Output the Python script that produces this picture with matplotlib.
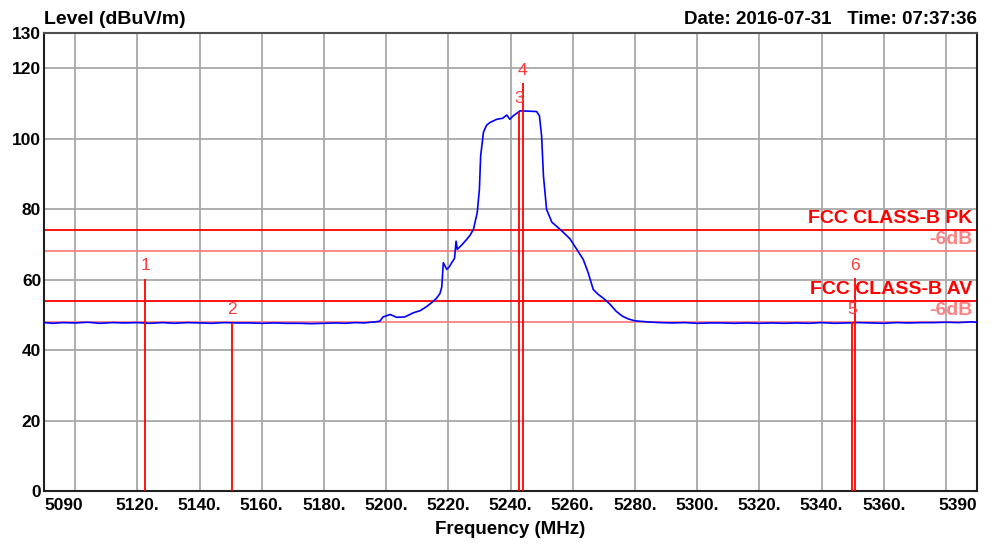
import matplotlib
matplotlib.use("Agg")
import matplotlib.pyplot as plt

plt.rcParams['font.family'] = ['Liberation Sans', 'DejaVu Sans']

# ---- data ----
freq_mhz = [5090, 5093, 5096, 5100, 5104, 5108, 5112, 5116, 5120, 5124, 5128, 5132,
            5136, 5140, 5144, 5148, 5152, 5156, 5160, 5164, 5168, 5172, 5176, 5180,
            5184, 5187, 5190, 5193, 5195, 5196.5, 5198, 5199, 5201.3, 5203.4, 5206,
            5208.8, 5211, 5213.1, 5214.7, 5216, 5217.3, 5217.9, 5218.4, 5219.5, 5220.3,
            5221.1, 5222.0, 5222.5, 5222.9, 5224.5, 5225.9, 5227, 5228.1, 5229.3, 5230,
            5230.4, 5231.3, 5232.3, 5233.4, 5235.6, 5237.5, 5238.8, 5239.8, 5240.9, 5242,
            5243.1, 5246, 5248.4, 5249.3, 5250, 5250.6, 5251.6, 5253.3, 5255, 5256.5,
            5259.1, 5261.3, 5263.4, 5265, 5266.6, 5268.2, 5270, 5272, 5274, 5276, 5278,
            5280, 5284, 5288, 5292, 5296, 5300, 5304, 5308, 5312, 5316, 5320, 5324, 5328,
            5332, 5336, 5340, 5344, 5348, 5352, 5356, 5360, 5364, 5368, 5372, 5376, 5380,
            5384, 5388, 5390]
level_dbuv = [47.8, 47.6, 47.8, 47.7, 47.9, 47.6, 47.8, 47.7, 47.8, 47.6, 47.8, 47.6,
              47.8, 47.7, 47.6, 47.8, 47.7, 47.7, 47.6, 47.7, 47.6, 47.6, 47.5, 47.6,
              47.7, 47.6, 47.8, 47.7, 47.9, 48.0, 48.2, 49.4, 50.1, 49.3, 49.4,
              50.6, 51.2, 52.4, 53.5, 54.5, 56.0, 57.9, 64.8, 62.9, 63.6,
              64.8, 66.0, 70.9, 68.6, 70.0, 71.4, 72.6, 74.3, 79.0, 85.6,
              95.1, 101.8, 103.8, 104.6, 105.5, 105.8, 106.7, 105.5, 106.5, 107.2,
              107.9, 107.8, 107.7, 106.5, 100.8, 89.4, 79.9, 76.3, 75.0, 73.8,
              71.6, 68.6, 65.7, 61.9, 57.2, 55.8, 54.6, 53.0, 51.0, 49.6, 48.8,
              48.3, 48.0, 47.8, 47.7, 47.8, 47.6, 47.7, 47.7, 47.6, 47.7, 47.6, 47.7, 47.6,
              47.7, 47.6, 47.8, 47.6, 47.7, 47.8, 47.7, 47.6, 47.8, 47.7, 47.8, 47.8, 47.9,
              47.8, 48.0, 47.9]

marker_ids = ['1', '2', '3', '4', '5', '6']
marker_freq = [5122.5, 5150.3, 5242.8, 5243.9, 5349.8, 5350.9]
marker_level = [60.3, 47.8, 107.7, 115.8, 47.9, 60.5]

limit_names = ['FCC CLASS-B PK', '-6dB', 'FCC CLASS-B AV', '-6dB']
limit_levels = [74, 68, 54, 48]

ytick_vals = [0, 20, 40, 60, 80, 100, 120, 130]
xgrid_vals = [5100, 5120, 5140, 5160, 5180, 5200, 5220, 5240, 5260, 5280, 5300,
              5320, 5340, 5360, 5380]
xtick_vals = [5090, 5120, 5140, 5160, 5180, 5200, 5220, 5240, 5260, 5280, 5300,
              5320, 5340, 5360, 5390]
xtick_labels = ['5090', '5120.', '5140.', '5160.', '5180.', '5200.', '5220.', '5240.',
                '5260.', '5280.', '5300.', '5320.', '5340.', '5360.', '5390']

# ---- figure ----
fig = plt.figure(figsize=(10, 5.44), dpi=100)
ax = fig.add_axes([0.044, 0.0974, 0.933, 0.842])
ax.set_xlim(5090, 5390)
ax.set_ylim(0, 130)

grid_c = '#a8a8a8'
for g in xgrid_vals:
    ax.axvline(g, color=grid_c, lw=1.3, zorder=1)
for g in [20, 40, 60, 80, 100, 120]:
    ax.axhline(g, color=grid_c, lw=1.3, zorder=1)

# limit lines
lim_cols = ['#ff0000', '#ff8080', '#ff0000', '#ff8080']
for name, lv, c in zip(limit_names, limit_levels, lim_cols):
    ax.axhline(lv, color=c, lw=1.3, zorder=2)
    ax.text(5388.5, lv + 0.9, name, color=c, fontsize=14, fontweight='bold',
            ha='right', va='bottom', zorder=5)

# trace
ax.plot(freq_mhz, level_dbuv, color='#0000ff', lw=1.2, zorder=3)

# markers
for mid, mf, ml in zip(marker_ids, marker_freq, marker_level):
    ax.vlines(mf, 0, ml, color='#ff0000', lw=1.3, zorder=4)
    ax.text(mf, ml + 3.6, mid, color='#ff3a3a', fontsize=12.5, ha='center',
            va='center', zorder=5)

ax.set_xticks(xtick_vals)
ax.set_xticklabels(xtick_labels, fontsize=12.5, fontweight='bold')
labs = ax.get_xticklabels()
labs[0].set_horizontalalignment('left')
labs[-1].set_horizontalalignment('right')
ax.set_yticks(ytick_vals)
ax.set_yticklabels([str(v) for v in ytick_vals], fontsize=12.5, fontweight='bold')
ax.tick_params(axis='both', length=0, pad=2)
ax.tick_params(axis='x', pad=5)

for s in ax.spines.values():
    s.set_color('#202020')
    s.set_linewidth(1.5)
ax.spines['top'].set_color('#505050')

ax.set_xlabel('Frequency (MHz)', fontsize=13.5, fontweight='bold', labelpad=6)
fig.text(0.044, 0.965, 'Level (dBuV/m)', fontsize=14, fontweight='bold',
         ha='left', va='center')
fig.text(0.977, 0.965, 'Date: 2016-07-31   Time: 07:37:36', fontsize=13.5,
         fontweight='bold', ha='right', va='center')

fig.savefig('out.png', dpi=100)
